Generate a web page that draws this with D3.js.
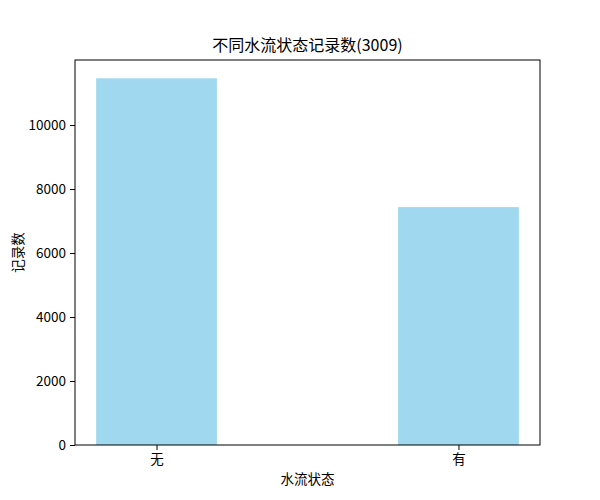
<!DOCTYPE html>
<html>
<head>
<meta charset="utf-8">
<script src="https://cdn.jsdelivr.net/npm/d3@7"></script>
<style>
  body { margin: 0; background: #fff; }
  svg text { font-family: "Noto Sans CJK SC", sans-serif; fill: #000; }
</style>
</head>
<body>
<svg width="600" height="500"></svg>
<script>
var categories = ["无", "有"];
var counts = [11460, 7435];
var yTicks = [0, 2000, 4000, 6000, 8000, 10000];
var title = "不同水流状态记录数(3009)";

var svg = d3.select("svg"),
    margin = {left: 75, right: 60, top: 60, bottom: 55},
    width = 600 - margin.left - margin.right,
    height = 500 - margin.top - margin.bottom;

var g = svg.append("g")
    .attr("transform", "translate(" + margin.left + "," + margin.top + ")");

// matplotlib-like linear x with bar width 0.4 and 5% margins
var barW = 0.4;
var x = d3.scaleLinear()
    .domain([-barW / 2 - 0.07, categories.length - 1 + barW / 2 + 0.07])
    .range([0, width]);

var y = d3.scaleLinear()
    .domain([0, d3.max(counts) * 1.05])
    .range([height, 0]);

g.selectAll("rect.bar")
    .data(counts)
    .enter().append("rect")
      .attr("class", "bar")
      .attr("x", function(d, i) { return x(i - barW / 2); })
      .attr("width", function(d, i) { return x(i + barW / 2) - x(i - barW / 2); })
      .attr("y", function(d) { return y(d); })
      .attr("height", function(d) { return height - y(d); })
      .attr("fill", "#87ceeb")
      .attr("fill-opacity", 0.8);

var xAxis = g.append("g")
    .attr("transform", "translate(0," + height + ")")
    .call(d3.axisBottom(x)
      .tickValues(d3.range(categories.length))
      .tickFormat(function(d) { return categories[d]; })
      .tickSize(5).tickPadding(4));

var yAxis = g.append("g")
    .call(d3.axisLeft(y).tickValues(yTicks).tickFormat(d3.format("d"))
      .tickSize(5).tickPadding(4));

[xAxis, yAxis].forEach(function(a) {
  a.select(".domain").remove();
  a.selectAll("line").attr("stroke", "#000");
  a.selectAll("text").style("font-size", "13.5px");
});

g.append("rect")
    .attr("width", width)
    .attr("height", height)
    .attr("fill", "none")
    .attr("stroke", "#000")
    .attr("stroke-width", 1);

svg.append("text")
    .attr("x", margin.left + width / 2)
    .attr("y", margin.top - 9)
    .attr("text-anchor", "middle")
    .style("font-size", "16px")
    .text(title);

svg.append("text")
    .attr("x", margin.left + width / 2)
    .attr("y", 484)
    .attr("text-anchor", "middle")
    .style("font-size", "13.5px")
    .text("水流状态");

svg.append("text")
    .attr("transform", "translate(23," + (margin.top + height / 2) + ") rotate(-90)")
    .attr("text-anchor", "middle")
    .style("font-size", "13.5px")
    .text("记录数");
</script>
</body>
</html>
